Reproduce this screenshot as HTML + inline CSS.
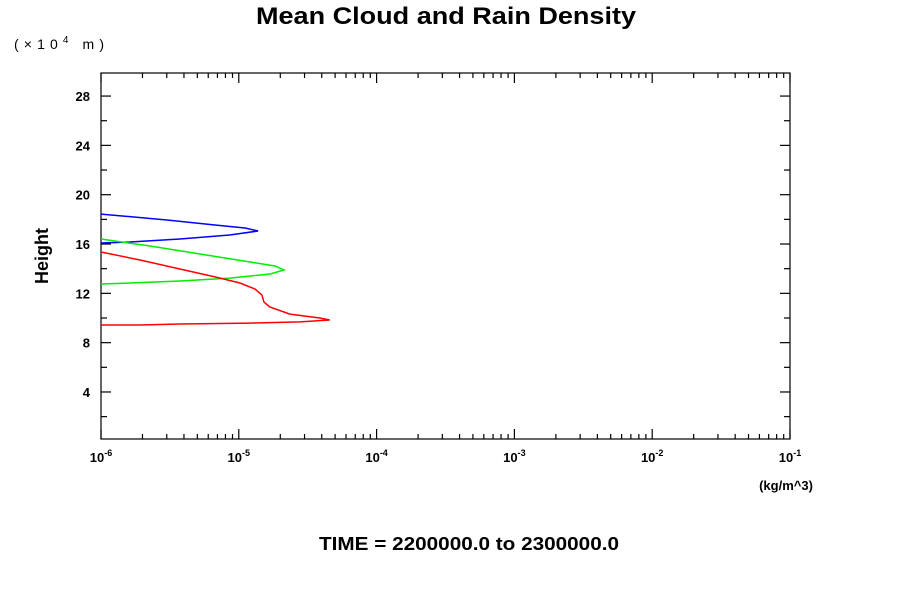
<!DOCTYPE html>
<html><head><meta charset="utf-8"><style>
body{margin:0;background:#fff;}
svg{display:block;font-family:"Liberation Sans",sans-serif;}
</style></head><body>
<svg id="chart" width="900" height="600">
<text x="256" y="24" textLength="380" lengthAdjust="spacingAndGlyphs" font-size="24" font-weight="bold">Mean Cloud and Rain Density</text>
<text x="14" y="49" font-size="14" textLength="90">(×10<tspan font-size="10" dy="-6">4</tspan><tspan dy="6">  m)</tspan></text>
<text x="48" y="256" font-size="18" font-weight="bold" text-anchor="middle" transform="rotate(-90 48 256)">Height</text>
<text x="786" y="490" font-size="13" font-weight="bold" text-anchor="middle">(kg/m^3)</text>
<text x="319" y="550" textLength="300" lengthAdjust="spacingAndGlyphs" font-size="18" font-weight="bold">TIME = 2200000.0 to 2300000.0</text>
<rect x="101" y="73" width="689" height="366" fill="none" stroke="#000" stroke-width="1.2"/>
<g id="ticks"></g>
<g id="series"></g>
</svg>
<script>
const yTicks=[4,8,12,16,20,24,28];
const xDecades=[-6,-5,-4,-3,-2,-1];
const blueH=[18.43,17.95,17.54,17.3,17.06,16.73,16.41,16.16,16.08];
const blueX=[1e-6,3.01e-6,6.71e-6,1.11e-5,1.38e-5,8.6e-6,3.74e-6,1.62e-6,1e-6];
const greenH=[16.41,15.84,15.19,14.54,14.22,13.89,13.57,13.24,13.0,12.84,12.76];
const greenX=[1e-6,2.27e-6,5.23e-6,1.21e-5,1.83e-5,2.13e-5,1.69e-5,8.6e-6,3.74e-6,1.62e-6,1e-6];
const redH=[15.35,14.7,13.97,13.33,12.84,12.35,11.87,11.3,10.89,10.32,10.0,9.84,9.68,9.59,9.51,9.43,9.43];
const redX=[1e-6,1.92e-6,3.74e-6,6.71e-6,1.02e-5,1.31e-5,1.47e-5,1.52e-5,1.68e-5,2.35e-5,3.88e-5,4.57e-5,2.78e-5,1.21e-5,3.74e-6,1.92e-6,1e-6];
const NS="http://www.w3.org/2000/svg";
const L=101,R=790,T=73,B=439;
function xs(v){return L+(Math.log10(v)+6)*(R-L)/5;}
function ys(h){return 441.3-12.33*h;}
const tg=document.getElementById('ticks');
function line(x1,y1,x2,y2,name){const e=document.createElementNS(NS,'line');
e.setAttribute('x1',x1);e.setAttribute('y1',y1);e.setAttribute('x2',x2);e.setAttribute('y2',y2);
e.setAttribute('stroke','#000');e.setAttribute('stroke-width','1.2');


tg.appendChild(e);}
for(let h=2;h<=28;h+=2){const y=ys(h);const maj=h%4===0;const len=maj?10:6;
line(L,y,L+len,y,'y-tick');line(R,y,R-len,y,'y-tick');}
yTicks.forEach(h=>{const t=document.createElementNS(NS,'text');t.setAttribute('x',90);t.setAttribute('y',ys(h)+5);
t.setAttribute('text-anchor','end');t.setAttribute('font-size','13');t.setAttribute('font-weight','bold');t.textContent=h;


tg.appendChild(t);});
xDecades.forEach(d=>{const x=xs(Math.pow(10,d));line(x,B,x,B-10,'x-tick');line(x,T,x,T+10,'x-tick');
if(d<-1){for(let m=2;m<10;m++){const xm=xs(m*Math.pow(10,d));line(xm,B,xm,B-5,'x-minor-tick');line(xm,T,xm,T+5,'x-minor-tick');}}
const t=document.createElementNS(NS,'text');t.setAttribute('x',x);t.setAttribute('y',462);t.setAttribute('text-anchor','middle');
t.setAttribute('font-size','13');t.setAttribute('font-weight','bold');
t.innerHTML='10<tspan font-size="9" dy="-6">'+d+'</tspan>';


tg.appendChild(t);});
const sg=document.getElementById('series');
function series(X,H,color,name){const p=document.createElementNS(NS,'polyline');
p.setAttribute('points',X.map((v,i)=>xs(v).toFixed(1)+','+ys(H[i]).toFixed(1)).join(' '));
p.setAttribute('fill','none');p.setAttribute('stroke',color);p.setAttribute('stroke-width','1.5');


sg.appendChild(p);}
series(blueX,blueH,'#0000ff','blue-series');
series(greenX,greenH,'#00ee00','green-series');
series(redX,redH,'#ff0000','red-series');
</script>
</body></html>
